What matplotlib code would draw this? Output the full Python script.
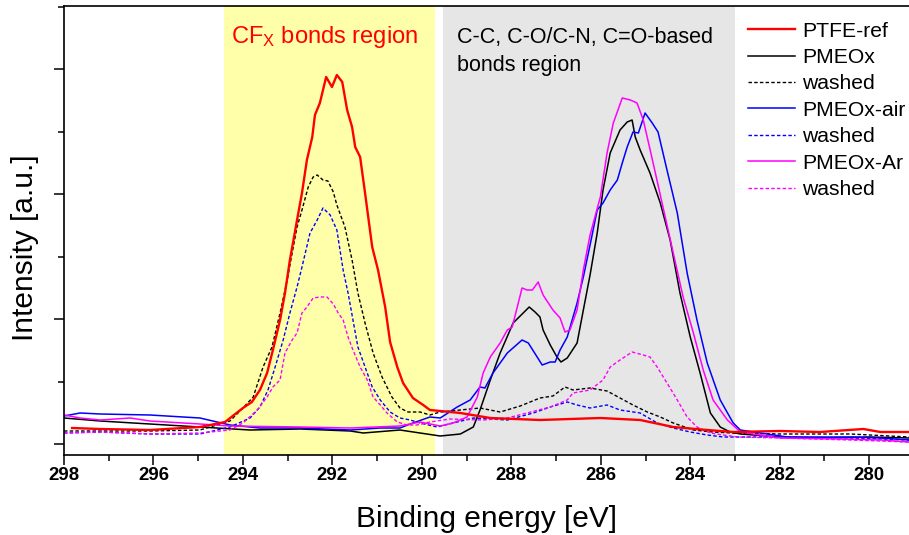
import matplotlib
matplotlib.use("Agg")
import matplotlib.pyplot as plt
from matplotlib.ticker import MultipleLocator

plt.rcParams['font.family'] = ['Liberation Sans', 'DejaVu Sans']
plt.rcParams['mathtext.fontset'] = 'custom'
plt.rcParams['mathtext.rm'] = 'Liberation Sans'
plt.rcParams['mathtext.default'] = 'regular'

# ---------------- data (binding energy [eV], intensity [a.u.]) ----------------
ptfe_x = [297.82, 297.19, 296.08, 294.96, 294.40, 294.00, 293.80, 293.62, 293.46, 293.33,
          293.17, 293.06, 292.95, 292.79, 292.68, 292.57, 292.45, 292.39, 292.28, 292.14,
          292.01, 291.90, 291.78, 291.67, 291.56, 291.49, 291.38, 291.27, 291.11, 290.98,
          290.82, 290.71, 290.55, 290.42, 290.20, 289.97, 289.82, 289.59, 289.14, 288.47,
          287.36, 286.01, 285.12, 284.38, 283.62, 283.04, 281.99, 281.10, 280.13, 279.75, 279.11]
ptfe_y = [16, 15, 14, 17, 22, 36, 42, 54, 71, 94,
          124, 151, 184, 224, 251, 284, 307, 329, 341, 367,
          357, 369, 362, 334, 317, 297, 287, 251, 197, 174,
          137, 102, 77, 61, 46, 39, 34, 33, 31, 26,
          24, 26, 24, 17, 14, 12, 13, 12, 15, 12, 12]

pmeox_x = [298.00, 297.19, 296.08, 294.96, 293.84, 292.72, 291.60, 291.31, 290.49, 289.59,
           289.14, 288.85, 288.70, 288.47, 288.25, 287.96, 287.60, 287.47, 287.36, 287.29,
           287.13, 286.98, 286.89, 286.75, 286.53, 286.39, 286.24, 286.08, 285.95, 285.79,
           285.57, 285.41, 285.30, 285.23, 285.12, 284.90, 284.67, 284.45, 284.23, 284.00,
           283.78, 283.55, 283.33, 283.11, 282.88, 281.99, 281.10, 279.98, 279.11]
pmeox_y = [26, 23, 20, 17, 14, 15, 13, 11, 14, 8,
           10, 17, 34, 64, 91, 121, 137, 132, 127, 114,
           99, 87, 82, 86, 101, 134, 169, 211, 254, 291,
           314, 322, 324, 307, 294, 271, 241, 204, 151, 107,
           71, 31, 17, 12, 10, 7, 6, 7, 6]

pmeox_w_x = [298.00, 297.19, 296.08, 294.96, 294.29, 294.00, 293.77, 293.55, 293.35, 293.17,
             293.01, 292.90, 292.79, 292.68, 292.54, 292.43, 292.34, 292.21, 292.10, 291.98,
             291.90, 291.72, 291.56, 291.43, 291.27, 291.09, 290.89, 290.67, 290.49, 290.31,
             290.04, 289.82, 289.59, 289.14, 288.70, 288.25, 287.80, 287.36, 287.07, 286.80,
             286.62, 286.24, 285.86, 285.57, 285.28, 284.96, 284.67, 284.38, 283.93, 283.49,
             283.04, 281.99, 280.42, 279.11]
pmeox_w_y = [13, 13, 13, 14, 23, 36, 47, 77, 97, 131,
             164, 191, 217, 234, 257, 267, 269, 264, 263, 252,
             239, 217, 184, 151, 121, 91, 67, 47, 36, 32,
             32, 29, 32, 34, 36, 32, 38, 46, 48, 57,
             54, 56, 53, 46, 39, 32, 27, 21, 14, 12,
             11, 10, 10, 7]

air_x = [298.00, 297.64, 297.19, 296.08, 294.96, 294.29, 293.62, 292.72, 291.60, 290.93,
         290.49, 290.20, 289.82, 289.59, 289.21, 288.92, 288.70, 288.59, 288.41, 288.09,
         287.76, 287.62, 287.31, 287.13, 287.02, 286.91, 286.75, 286.53, 286.39, 286.24,
         286.08, 285.95, 285.79, 285.63, 285.52, 285.41, 285.28, 285.16, 285.01, 284.85,
         284.72, 284.52, 284.29, 284.07, 283.85, 283.62, 283.33, 283.04, 282.88, 281.83,
         280.36, 279.75, 279.11]
air_y = [28, 31, 30, 29, 26, 19, 16, 16, 14, 16,
         16, 21, 27, 26, 37, 44, 57, 56, 71, 91,
         104, 101, 79, 82, 82, 94, 107, 141, 167, 199,
         234, 241, 254, 264, 281, 297, 312, 311, 331, 321,
         312, 274, 231, 171, 124, 81, 44, 21, 14, 7,
         7, 6, 4]

air_w_x = [298.00, 297.19, 296.08, 294.96, 294.29, 293.84, 293.62, 293.44, 293.28, 293.10,
           292.95, 292.79, 292.68, 292.50, 292.34, 292.21, 292.05, 291.90, 291.76, 291.65,
           291.54, 291.43, 291.27, 291.11, 290.93, 290.71, 290.49, 290.26, 290.04, 289.66,
           288.85, 288.09, 287.51, 287.13, 286.75, 286.53, 286.24, 285.86, 285.57, 285.12,
           284.74, 284.38, 284.00, 283.62, 283.26, 281.99, 280.42, 279.11]
air_w_y = [11, 12, 10, 10, 17, 26, 37, 54, 77, 104,
           131, 157, 177, 211, 224, 236, 229, 214, 174, 151,
           124, 97, 77, 57, 44, 32, 26, 24, 21, 17,
           26, 24, 31, 37, 42, 39, 36, 39, 34, 31,
           21, 16, 12, 9, 7, 7, 6, 4]

ar_x = [298.00, 297.64, 297.19, 296.52, 296.08, 294.96, 294.29, 292.72, 291.60, 290.49,
        290.04, 289.59, 289.30, 288.99, 288.76, 288.63, 288.47, 288.25, 288.09, 287.98,
        287.76, 287.65, 287.53, 287.40, 287.29, 287.07, 286.91, 286.80, 286.69, 286.53,
        286.39, 286.24, 286.01, 285.86, 285.72, 285.52, 285.34, 285.19, 285.05, 284.83,
        284.61, 284.38, 284.16, 283.93, 283.71, 283.49, 283.17, 282.88, 281.99, 280.65,
        279.75, 279.11]
ar_y = [29, 26, 24, 26, 23, 20, 18, 17, 16, 18,
        22, 18, 21, 27, 47, 71, 87, 101, 114, 117,
        156, 154, 154, 162, 149, 134, 126, 112, 114, 134,
        174, 209, 247, 291, 321, 346, 344, 341, 324, 281,
        237, 191, 147, 111, 74, 44, 24, 12, 6, 5,
        4, 2]

ar_w_x = [298.00, 297.19, 296.08, 294.96, 294.29, 294.00, 293.68, 293.46, 293.33, 293.17,
          293.06, 292.90, 292.79, 292.68, 292.57, 292.43, 292.28, 292.12, 291.98, 291.87,
          291.76, 291.65, 291.54, 291.38, 291.22, 291.09, 290.93, 290.78, 290.55, 290.33,
          290.11, 289.82, 289.37, 288.63, 288.09, 287.65, 287.13, 286.75, 286.62, 286.24,
          285.95, 285.79, 285.57, 285.30, 285.05, 284.90, 284.74, 284.52, 284.29, 284.07,
          283.85, 283.55, 283.26, 282.95, 281.99, 280.42, 279.11]
ar_w_y = [11, 12, 10, 11, 14, 21, 34, 47, 57, 64,
          91, 104, 111, 131, 137, 146, 147, 147, 140, 131,
          124, 107, 94, 77, 64, 47, 39, 31, 22, 19,
          19, 22, 25, 24, 26, 31, 37, 44, 51, 54,
          64, 77, 84, 92, 89, 87, 77, 61, 44, 27,
          17, 11, 9, 7, 6, 4, 2]

cfx_region = (294.42, 289.70)
cc_region = (289.52, 283.00)

x_ticks = [298, 296, 294, 292, 290, 288, 286, 284, 282, 280]

# ---------------- figure ----------------
fig = plt.figure(figsize=(9.09, 5.35), dpi=100)
ax = fig.add_axes([64/909, 80/535, 845/909, 449/535])

ax.axvspan(cfx_region[0], cfx_region[1], color='#FFFFAA', lw=0, zorder=0)
ax.axvspan(cc_region[0], cc_region[1], color='#E6E6E6', lw=0, zorder=0)

dash = (0, (2.5, 1.6))
ax.plot(ptfe_x, ptfe_y, color='#FF0000', lw=1.7, label='PTFE-ref', zorder=5)
ax.plot(pmeox_x, pmeox_y, color='black', lw=1.1, label='PMEOx')
ax.plot(pmeox_w_x, pmeox_w_y, color='black', lw=1.0, ls=dash, label='washed')
ax.plot(air_x, air_y, color='#0000FF', lw=1.1, label='PMEOx-air')
ax.plot(air_w_x, air_w_y, color='#0000FF', lw=1.0, ls=dash, label='washed')
ax.plot(ar_x, ar_y, color='#FF00FF', lw=1.1, label='PMEOx-Ar')
ax.plot(ar_w_x, ar_w_y, color='#FF00FF', lw=1.0, ls=dash, label='washed')

ax.set_xlim(298, 279.11)
ax.set_ylim(-11, 438)

ax.set_xticks(x_ticks)
ax.xaxis.set_minor_locator(MultipleLocator(1))
ax.yaxis.set_major_locator(MultipleLocator(125))
ax.yaxis.set_minor_locator(MultipleLocator(62.5))
ax.set_yticklabels([])
ax.tick_params(axis='both', which='major', direction='out', length=7, width=1.1)
ax.tick_params(axis='both', which='minor', direction='out', length=4, width=1.1)
ax.tick_params(axis='x', which='major', labelsize=13.4, pad=2)
for lab in ax.get_xticklabels():
    lab.set_fontweight('bold')
ax.tick_params(axis='y', which='both', labelleft=False)

for s in ['left', 'bottom', 'top']:
    ax.spines[s].set_linewidth(1.2)
ax.spines['right'].set_visible(False)

ax.set_xlabel('Binding energy [eV]', fontsize=21.5, labelpad=15)
ax.set_ylabel('Intensity [a.u.]', fontsize=21.5)
ax.yaxis.set_label_coords(-0.029, 0.462)

ax.text(294.27, 407, r'CF$_{X}$ bonds region', color='#FF0000', fontsize=17,
        ha='left', va='center')
ax.text(289.21, 407, 'C-C, C-O/C-N, C=O-based', color='black', fontsize=15.5,
        ha='left', va='center')
ax.text(289.21, 379, 'bonds region', color='black', fontsize=15.5,
        ha='left', va='center')

leg = ax.legend(loc='upper left', bbox_to_anchor=(0.809, 0.965), frameon=False,
                fontsize=15.2, handlelength=2.25, handletextpad=0.35,
                labelspacing=0.35, borderpad=0, borderaxespad=0)

fig.savefig('out.png', dpi=100)
